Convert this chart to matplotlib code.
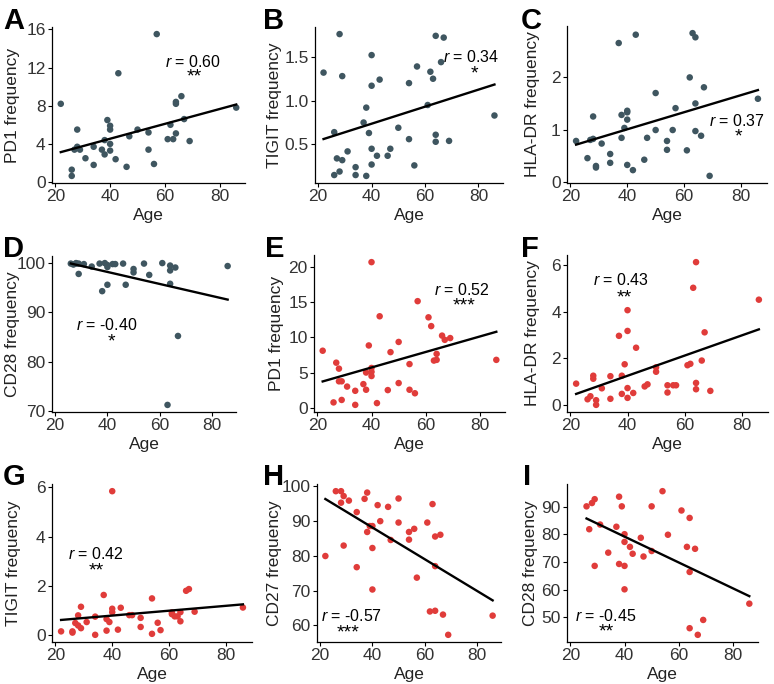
import numpy as np
import matplotlib
matplotlib.use('Agg')
import matplotlib.pyplot as plt

plt.rcParams['font.family'] = ['Liberation Sans', 'DejaVu Sans']
plt.rcParams['mathtext.fontset'] = 'custom'
plt.rcParams['mathtext.rm'] = 'Liberation Sans'
plt.rcParams['mathtext.it'] = 'Liberation Sans:italic'

# ---- data ----
age_a = [22, 26, 26, 27, 28, 28, 29, 31, 34, 34, 37, 38, 38, 39, 40, 40, 40, 40, 42,
         43, 46, 47, 50, 54, 54, 56, 57, 61, 62, 63, 64, 64, 64, 66, 67, 69, 86]
pd1_a = [8.2, 1.3, 0.65, 3.4, 5.5, 3.7, 3.4, 2.5, 3.7, 1.8, 3.4, 2.9, 4.4, 6.5, 5.9, 5.5, 4.0, 3.3, 2.4,
         11.4, 1.6, 4.8, 5.5, 5.2, 3.4, 1.9, 15.5, 4.5, 6.0, 4.5, 8.4, 8.2, 5.1, 9.0, 6.6, 4.3, 7.8]

age_b = [22, 26, 26, 27, 28, 28, 29, 29, 31, 34, 34, 37, 38, 38, 39, 40, 40, 40, 40,
         42, 43, 46, 47, 50, 54, 54, 56, 57, 61, 62, 63, 64, 64, 64, 66, 67, 69, 86]
tigit_b = [1.32, 0.15, 0.64, 0.34, 1.76, 0.19, 1.28, 0.32, 0.42, 0.24, 0.15, 0.75, 0.92, 0.14, 0.63,
           1.52, 1.17, 0.45, 0.27, 0.37, 1.24, 0.37, 0.45, 0.69, 1.20, 0.56, 0.26, 1.39, 0.95,
           1.33, 1.25, 1.74, 0.61, 0.53, 1.44, 1.72, 0.54, 0.83]

age_c = [22, 26, 27, 28, 28, 29, 29, 31, 34, 34, 37, 38, 38, 39, 40, 40, 40, 40, 42,
         43, 46, 47, 50, 50, 54, 54, 56, 57, 61, 62, 63, 64, 64, 64, 66, 67, 69, 86]
hla_c = [0.78, 0.45, 0.80, 1.25, 0.82, 0.30, 0.27, 0.73, 0.53, 0.36, 2.66, 1.28, 0.84, 1.03,
         1.36, 1.33, 1.19, 0.32, 0.22, 2.82, 0.42, 0.84, 1.70, 0.99, 0.78, 0.61, 0.99, 1.41,
         0.60, 2.00, 2.85, 2.77, 1.50, 0.97, 0.88, 1.81, 0.11, 1.59]

age_d = [26, 27, 28, 28, 29, 29, 31, 34, 37, 38, 39, 40, 40, 40, 42, 43, 46, 47, 50, 50,
         54, 56, 61, 63, 64, 64, 64, 66, 67, 86]
cd28_d = [99.9, 99.7, 100.0, 99.9, 99.9, 97.8, 99.8, 99.3, 99.9, 94.3, 100.0, 99.6, 99.2, 95.6,
          99.8, 99.8, 99.9, 95.6, 98.8, 98.1, 99.9, 97.6, 100.0, 71.2, 99.5, 98.5, 95.8, 99.1,
          85.2, 99.4]

age_e = [22, 26, 27, 28, 28, 29, 29, 31, 34, 34, 37, 38, 38, 39, 40, 40, 40, 40, 42,
         43, 46, 47, 50, 50, 54, 54, 56, 57, 61, 62, 63, 64, 64, 66, 67, 69, 86]
pd1_e = [8.1, 0.75, 6.4, 5.55, 3.75, 3.75, 1.1, 3.0, 2.4, 0.4, 3.35, 5.0, 2.55, 8.85, 20.7,
         5.65, 5.1, 4.5, 0.65, 13.0, 2.5, 7.9, 9.35, 3.5, 6.2, 2.55, 2.05, 15.15, 12.85, 11.6,
         6.7, 7.65, 6.8, 10.25, 9.65, 9.9, 6.8]

age_f = [22, 26, 27, 28, 28, 29, 29, 31, 34, 34, 37, 38, 38, 39, 40, 40, 40, 40, 42,
         43, 46, 47, 50, 50, 54, 54, 56, 57, 61, 62, 63, 64, 64, 64, 66, 67, 69, 86]
hla_f = [0.92, 0.25, 0.38, 1.26, 1.13, 0.21, 0.01, 0.72, 1.24, 0.27, 2.97, 1.26, 0.48, 1.75,
         4.07, 3.18, 0.73, 0.31, 0.52, 2.46, 0.80, 0.89, 1.62, 1.43, 0.85, 0.54, 0.85, 0.85,
         1.71, 1.77, 5.03, 6.13, 0.95, 0.68, 1.91, 3.12, 0.61, 4.52]

age_g = [22, 26, 26, 27, 28, 28, 29, 29, 31, 34, 34, 37, 38, 38, 39, 40, 40, 40, 42,
         43, 46, 47, 50, 50, 54, 54, 56, 57, 61, 61, 62, 63, 64, 64, 66, 67, 69, 86]
tigit_g = [0.15, 0.15, 0.10, 0.49, 0.80, 0.39, 1.15, 0.28, 0.53, 0.75, 0.01, 1.63, 0.65, 0.18,
           0.53, 5.85, 1.07, 0.93, 0.22, 1.11, 0.81, 0.81, 0.70, 0.33, 1.49, 0.05, 0.50, 0.20,
           0.92, 0.85, 0.76, 0.76, 0.93, 0.56, 1.80, 1.87, 0.95, 1.12]

age_h = [22, 26, 28, 28, 29, 29, 31, 34, 34, 37, 38, 38, 39, 40, 40, 40, 42, 43, 46, 47,
         50, 50, 54, 54, 56, 57, 61, 62, 63, 64, 64, 64, 66, 67, 69, 86]
cd27_h = [79.9, 98.5, 98.5, 95.2, 97.1, 82.9, 95.8, 92.5, 76.7, 96.3, 98.1, 86.8, 88.5, 88.5,
          82.2, 70.3, 94.5, 89.9, 94.0, 84.5, 96.4, 89.5, 86.8, 84.6, 87.7, 73.7, 89.5, 64.0,
          94.8, 85.5, 77.0, 64.2, 86.0, 63.1, 57.3, 62.8]

age_i = [26, 27, 28, 29, 29, 31, 34, 37, 38, 38, 39, 40, 40, 40, 40, 42, 43, 46, 47, 50,
         50, 54, 56, 61, 63, 64, 64, 64, 66, 67, 69, 86]
cd28_i = [90.2, 81.9, 91.4, 92.8, 68.6, 83.6, 73.4, 82.8, 93.7, 69.3, 90.2, 80.1, 77.3, 68.6,
          60.1, 75.5, 73.0, 78.8, 72.0, 90.2, 74.0, 95.7, 79.9, 88.7, 75.5, 86.0, 66.4, 46.0,
          74.8, 43.6, 49.0, 54.9]

x_ticks = [20, 40, 60, 80]

dark = '#3f5660'
red = '#e03c3a'

panels = [
    # letter, ages, values, colour, ylabel, yticks, r text, stars, r pos, star pos
    ('A', age_a, pd1_a, dark, 'PD1 frequency', [0, 4, 8, 12, 16], '0.60', '**', (70.4, 12.6), (70.7, 11.0)),
    ('B', age_b, tigit_b, dark, 'TIGIT frequency', [0.5, 1.0, 1.5], '0.34', '*', (77.4, 1.50), (78.6, 1.31)),
    ('C', age_c, hla_c, dark, 'HLA-DR frequency', [0, 1, 2], '0.37', '*', (78.6, 1.16), (79.3, 0.85)),
    ('D', age_d, cd28_d, dark, 'CD28 frequency', [70, 80, 90, 100], '-0.40', '*', (39.9, 87.5), (41.4, 84.0)),
    ('E', age_e, pd1_e, red, 'PD1 frequency', [0, 5, 10, 15, 20], '0.52', '***', (73.2, 16.8), (74.2, 14.5)),
    ('F', age_f, hla_f, red, 'HLA-DR frequency', [0, 2, 4, 6], '0.43', '**', (37.6, 5.38), (39.0, 4.6)),
    ('G', age_g, tigit_g, red, 'TIGIT frequency', [0, 2, 4, 6], '0.42', '**', (34.3, 3.3), (34.3, 2.6)),
    ('H', age_h, cd27_h, red, 'CD27 frequency', [60, 70, 80, 90, 100], '-0.57', '***', (31.9, 62.8), (30.8, 57.8)),
    ('I', age_i, cd28_i, red, 'CD28 frequency', [50, 60, 70, 80, 90], '-0.45', '**', (33.2, 50.6), (33.2, 44.6)),
]

W, H = 774, 684
# axes boxes in pixels: left, right, top, bottom
boxes = [
    (52, 245, 27, 183), (315, 503, 27, 183), (567, 767, 26, 183),
    (52, 236, 256, 412), (314, 505, 255, 412), (567, 768, 255, 412),
    (52, 252, 484, 642), (317, 501, 484, 642), (567, 758, 484, 642),
]
ylabel_x = [13, 275, 533, 13, 277, 533, 13, 275, 531]
letter_pos = [(3, 7), (263, 7), (521, 7), (3, 235), (265, 235), (521, 235), (3, 463), (263, 463), (523, 463)]

fig = plt.figure(figsize=(W / 100, H / 100), dpi=100)

for (letter, x, y, col, ylab, yt, rtxt, stars, rpos, spos), (l, r, t, b), lxp, (lx, ly) in zip(panels, boxes, ylabel_x, letter_pos):
    x = np.array(x, dtype=float)
    y = np.array(y, dtype=float)
    ax = fig.add_axes([l / W, 1 - b / H, (r - l) / W, (b - t) / H])
    ax.scatter(x, y, s=22, color=col, edgecolors='none', zorder=3)
    k, c = np.polyfit(x, y, 1)
    xl = np.array([x.min(), x.max()])
    ax.plot(xl, k * xl + c, color='black', lw=1.7, zorder=4)

    ax.set_xlim(18.8, 89.2)
    yr = y.max() - y.min()
    ax.set_ylim(y.min() - 0.05 * yr, y.max() + 0.05 * yr)
    ax.set_xticks(x_ticks)
    ax.set_yticks(yt)
    ax.set_yticklabels([('%g' % v) if letter != 'B' else ('%.1f' % v) for v in yt])
    for s in ['top', 'right']:
        ax.spines[s].set_visible(False)
    for s in ['left', 'bottom']:
        ax.spines[s].set_linewidth(0.9)
        ax.spines[s].set_color('black')
    ax.tick_params(axis='both', which='major', labelsize=12.5, length=3, width=0.8,
                   labelcolor='#333333', pad=1.5)
    ax.set_xlabel('Age', fontsize=12.5, labelpad=3, color='#222222')
    ax.set_ylabel(ylab, fontsize=12.5, color='#222222', va='center')
    ax.yaxis.set_label_coords((lxp - l) / (r - l), 0.5)

    ax.text(rpos[0], rpos[1], '$r$ = ' + rtxt, fontsize=11.5, ha='center', va='center')
    ax.text(spos[0], spos[1], stars, fontsize=14, ha='center', va='center')

    fig.text(lx / W, 1 - ly / H, letter, fontsize=21, fontweight='heavy', ha='left', va='top')

plt.savefig('out.png', dpi=100)
